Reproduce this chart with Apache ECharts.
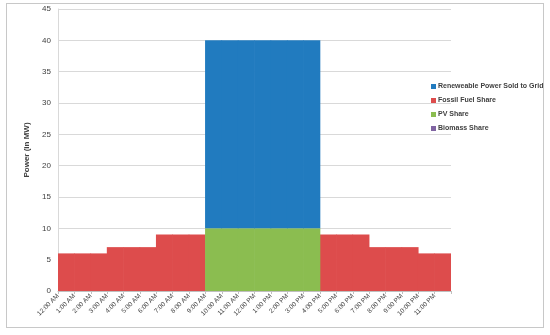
<!DOCTYPE html>
<html>
<head>
<meta charset="utf-8">
<script src="https://cdn.jsdelivr.net/npm/echarts@6/dist/echarts.min.js"></script>
<style>
html,body{margin:0;padding:0;background:#fff;}
#frame{position:absolute;left:6px;top:3px;width:538px;height:325px;border:1px solid #c8c8c8;box-sizing:border-box;}
#c{position:absolute;left:0;top:0;width:550px;height:335px;}
</style>
</head>
<body>
<div id="frame"></div>
<div id="c"></div>
<script>
var hours = ['12:00 AM','1:00 AM','2:00 AM','3:00 AM','4:00 AM','5:00 AM','6:00 AM','7:00 AM','8:00 AM','9:00 AM','10:00 AM','11:00 AM','12:00 PM','1:00 PM','2:00 PM','3:00 PM','4:00 PM','5:00 PM','6:00 PM','7:00 PM','8:00 PM','9:00 PM','10:00 PM','11:00 PM'];
var renewableSold = [0,0,0,0,0,0,0,0,0,30,30,30,30,30,30,30,0,0,0,0,0,0,0,0];
var fossilShare   = [6,6,6,7,7,7,9,9,9,0,0,0,0,0,0,0,9,9,9,7,7,7,6,6];
var pvShare       = [0,0,0,0,0,0,0,0,0,10,10,10,10,10,10,10,0,0,0,0,0,0,0,0];
var biomassShare  = [0,0,0,0,0,0,0,0,0,0,0,0,0,0,0,0,0,0,0,0,0,0,0,0];
var yTicks = [0,5,10,15,20,25,30,35,40,45];

var tickLabels = hours.concat(['']);
var chart = echarts.init(document.getElementById('c'), null, {renderer:'canvas'});
var font = 'Liberation Sans, Arial, sans-serif';
var bw = 17;
chart.setOption({
  animation:false,
  grid:{left:58,right:99,top:9,bottom:44,containLabel:false},
  legend:{
    orient:'vertical',left:426,top:78,itemWidth:5,itemHeight:5,itemGap:7,
    icon:'rect',itemStyle:{borderWidth:0},
    data:['Reneweable Power Sold to Grid','Fossil Fuel Share','PV Share','Biomass Share'],
    textStyle:{fontSize:7,fontWeight:'bold',color:'#404040',fontFamily:font,padding:[0,0,0,-3]}
  },
  xAxis:[{
    type:'category',data:hours,boundaryGap:true,
    axisLine:{show:false},axisTick:{show:false},axisLabel:{show:false},splitLine:{show:false}
  },{
    type:'category',data:tickLabels,boundaryGap:false,position:'bottom',
    axisLine:{show:true,lineStyle:{color:'#bfbfbf',width:1}},
    axisTick:{show:true,length:3,lineStyle:{color:'#bfbfbf'}},
    axisLabel:{rotate:45,fontSize:6.5,color:'#404040',fontFamily:font,margin:4,interval:0},
    splitLine:{show:false}
  }],
  yAxis:{
    type:'value',min:0,max:45,interval:5,
    name:'Power (in MW)',nameLocation:'middle',nameGap:27,
    nameTextStyle:{fontSize:8,fontWeight:'bold',color:'#404040',fontFamily:font},
    axisLine:{show:true,lineStyle:{color:'#d9d9d9'}},
    axisTick:{show:false},
    axisLabel:{fontSize:8,color:'#404040',fontFamily:font,margin:7,
      formatter:function(v){return yTicks.indexOf(v)>=0?String(v):'';}},
    splitLine:{lineStyle:{color:'#d9d9d9',width:1}}
  },
  series:[
    {name:'Fossil Fuel Share',type:'bar',stack:'p',data:fossilShare,barWidth:bw,itemStyle:{color:'#dd4c4c'}},
    {name:'PV Share',type:'bar',stack:'p',data:pvShare,barWidth:bw,itemStyle:{color:'#8bbd50'}},
    {name:'Biomass Share',type:'bar',stack:'p',data:biomassShare,barWidth:bw,itemStyle:{color:'#8064a2'}},
    {name:'Reneweable Power Sold to Grid',type:'bar',stack:'p',data:renewableSold,barWidth:bw,itemStyle:{color:'#217bbf'}}
  ]
});
</script>
</body>
</html>
